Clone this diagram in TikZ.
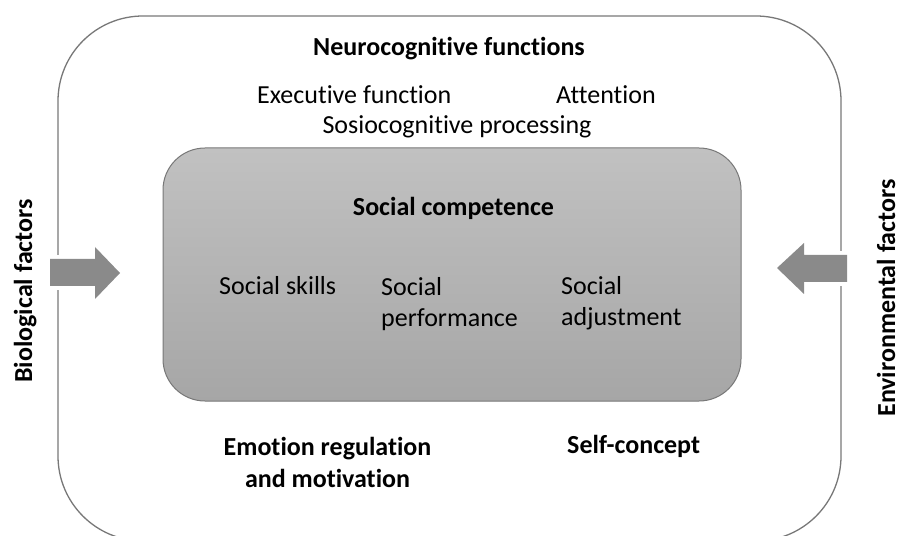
\documentclass[tikz,border=0pt]{standalone}
\usepackage{fontspec}
\setmainfont{Carlito}[Ligatures=NoCommon]
\definecolor{linegray}{RGB}{120,120,120}
\definecolor{boxtop}{RGB}{193,193,193}
\definecolor{boxbot}{RGB}{166,166,166}
\definecolor{arrowgray}{RGB}{138,138,138}
\begin{document}
\begin{tikzpicture}[x=1bp,y=-1bp,
  txt/.style={inner sep=0pt,font=\fontsize{26bp}{31.5bp}\selectfont,text=black},
  btxt/.style={txt,font=\fontsize{26bp}{31.5bp}\selectfont\bfseries},
  fatarrow/.style={fill=arrowgray,draw=none}]
\useasboundingbox (0,0) rectangle (901,536);
\fill[white] (0,0) rectangle (901,536);
% outer frame
\draw[linegray,line width=1.3bp,rounded corners=85bp] (58,16) rectangle (841,541);
% inner box
\draw[draw=linegray,line width=1bp,rounded corners=42bp,top color=boxtop,bottom color=boxbot]
  (163,148) rectangle (741,401);
\node[txt] (box) at (452,274.5) {};
% arrows
\fill[white] (46,255) rectangle (99,290);
\fill[fatarrow] (50,259) -- (95,259) -- (95,247) -- (120,273) -- (95,299) -- (95,286) -- (50,286) -- cycle;
\coordinate (bioarrow) at (120,273);
\fill[white] (800,251) rectangle (851,286);
\fill[fatarrow] (847,255) -- (804,255) -- (804,243) -- (777,268) -- (804,294) -- (804,282) -- (847,282) -- cycle;
\coordinate (envarrow) at (777,268);
% texts
\node[btxt,anchor=base] (neuro) at (449,56) {Neurocognitive functions};
\node[txt,anchor=base west] (exec) at (257,104) {Executive function};
\node[txt,anchor=base west] (att) at (556,104) {Attention};
\node[txt,anchor=base] (sosio) at (457,134) {Sosiocognitive processing};
\node[btxt,anchor=base] (comp) at (453.5,216) {Social competence};
\node[txt,anchor=base west] (skills) at (219,295) {Social skills};
\node[txt,anchor=base west,align=left] (perf) at (381,327) {Social\\performance};
\node[txt,anchor=base west,align=left] (adj) at (561,326) {Social\\adjustment};
\node[btxt,anchor=base,align=center] (emo) at (327.5,487) {Emotion regulation\\and motivation};
\node[btxt,anchor=base west] (self) at (567,453) {Self-concept};
\node[btxt,anchor=base,rotate=90] (bio) at (32,291) {Biological factors};
\node[btxt,anchor=base,rotate=90] (env) at (895,298) {Environmental factors};
\end{tikzpicture}
\end{document}
